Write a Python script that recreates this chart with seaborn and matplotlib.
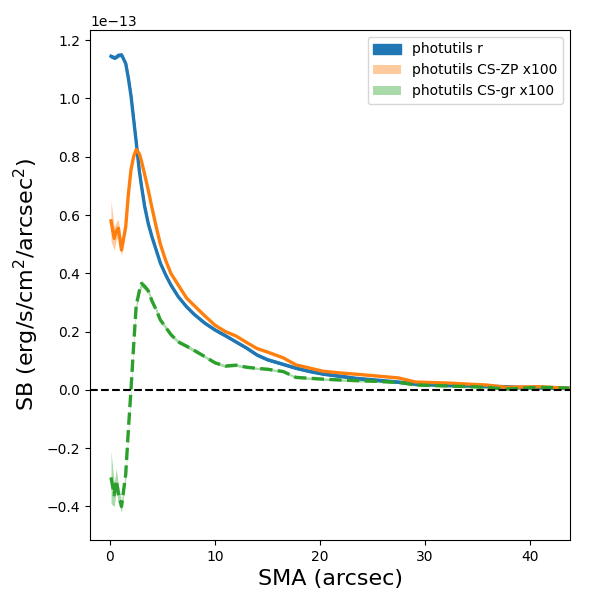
import numpy as np
import pandas as pd
import matplotlib
matplotlib.use('Agg')
import matplotlib.pyplot as plt
import seaborn as sns

# SMA grid (arcsec)
sma = [0.1, 0.4, 0.6, 0.8, 1.1, 1.5, 1.75, 2.0, 2.25, 2.5, 2.8, 3.0, 3.3, 3.65,
       4.0, 4.4, 4.8, 5.3, 5.8, 6.5, 7.3, 8.0, 9.0, 10.0, 11.0, 12.0, 13.0,
       14.0, 15.0, 16.5, 17.7, 19.0, 20.3, 22.0, 23.4, 25.0, 27.5, 29.1, 31.0,
       32.6, 34.5, 35.8, 37.7, 39.0, 40.8, 42.0, 43.7]

# surface brightness, units of 1e-13
sb_r = [1.145, 1.14, 1.142, 1.148, 1.15, 1.12, 1.07, 1.01, 0.93, 0.85, 0.75,
        0.70, 0.63, 0.57, 0.525, 0.48, 0.435, 0.395, 0.36, 0.32, 0.285, 0.26,
        0.23, 0.206, 0.186, 0.165, 0.144, 0.12, 0.104, 0.088, 0.075, 0.064,
        0.055, 0.047, 0.04, 0.035, 0.027, 0.021, 0.018, 0.016, 0.015, 0.013,
        0.011, 0.009, 0.008, 0.007, 0.006]
err_r = [0.004, 0.004, 0.003, 0.003, 0.003, 0.003, 0.003, 0.003, 0.003, 0.003,
         0.003, 0.003, 0.003, 0.003, 0.003, 0.003, 0.003, 0.003, 0.003, 0.003,
         0.003, 0.003, 0.003, 0.003, 0.003, 0.003, 0.003, 0.003, 0.003, 0.003,
         0.003, 0.003, 0.003, 0.003, 0.003, 0.003, 0.003, 0.003, 0.003, 0.003,
         0.003, 0.003, 0.003, 0.003, 0.003, 0.003, 0.003]

sb_zp = [0.58, 0.52, 0.545, 0.555, 0.48, 0.56, 0.67, 0.755, 0.80, 0.825, 0.81,
         0.785, 0.74, 0.685, 0.625, 0.56, 0.50, 0.445, 0.40, 0.36, 0.315, 0.29,
         0.255, 0.222, 0.20, 0.185, 0.163, 0.142, 0.13, 0.11, 0.086, 0.075,
         0.064, 0.058, 0.054, 0.049, 0.041, 0.027, 0.025, 0.023, 0.019, 0.017,
         0.009, 0.010, 0.011, 0.009, 0.005]
err_zp = [0.07, 0.04, 0.03, 0.03, 0.02, 0.012, 0.01, 0.008, 0.008, 0.008, 0.008,
          0.008, 0.007, 0.006, 0.006, 0.005, 0.005, 0.005, 0.004, 0.004, 0.004,
          0.004, 0.004, 0.003, 0.003, 0.003, 0.003, 0.003, 0.003, 0.003, 0.003,
          0.003, 0.003, 0.003, 0.003, 0.003, 0.003, 0.003, 0.003, 0.003, 0.003,
          0.003, 0.003, 0.003, 0.003, 0.003, 0.003]

sb_gr = [-0.30, -0.36, -0.31, -0.355, -0.40, -0.29, -0.14, 0.0, 0.15, 0.29,
         0.34, 0.365, 0.355, 0.34, 0.305, 0.275, 0.24, 0.215, 0.19, 0.165,
         0.15, 0.136, 0.115, 0.093, 0.082, 0.085, 0.078, 0.074, 0.071, 0.063,
         0.043, 0.04, 0.037, 0.034, 0.032, 0.03, 0.026, 0.017, 0.015, 0.013,
         0.011, 0.009, 0.003, 0.005, 0.009, 0.008, 0.006]
err_gr = [0.09, 0.04, 0.04, 0.03, 0.02, 0.015, 0.012, 0.012, 0.012, 0.012,
          0.012, 0.012, 0.01, 0.01, 0.008, 0.008, 0.008, 0.007, 0.007, 0.006,
          0.006, 0.006, 0.005, 0.005, 0.005, 0.005, 0.004, 0.004, 0.004, 0.004,
          0.004, 0.004, 0.004, 0.004, 0.004, 0.004, 0.004, 0.004, 0.004, 0.004,
          0.004, 0.004, 0.004, 0.004, 0.004, 0.004, 0.004]

scale = 1e-13
df = pd.DataFrame({'sma': sma,
                   'r': np.array(sb_r) * scale,
                   'zp': np.array(sb_zp) * scale,
                   'gr': np.array(sb_gr) * scale})

fig, ax = plt.subplots(figsize=(6, 6), dpi=100)
fig.subplots_adjust(left=0.15, right=0.95, top=0.95, bottom=0.1)

# bands (these carry the legend)
ax.fill_between(sma, (np.array(sb_r) - err_r) * scale, (np.array(sb_r) + err_r) * scale,
                color='C0', label='photutils r')
ax.fill_between(sma, (np.array(sb_zp) - err_zp) * scale, (np.array(sb_zp) + err_zp) * scale,
                color='C1', alpha=0.4, lw=0, label='photutils CS-ZP x100')
ax.fill_between(sma, (np.array(sb_gr) - err_gr) * scale, (np.array(sb_gr) + err_gr) * scale,
                color='C2', alpha=0.4, lw=0, label='photutils CS-gr x100')

sns.lineplot(data=df, x='sma', y='r', color='C0', lw=2.4, ax=ax, legend=False)
sns.lineplot(data=df, x='sma', y='zp', color='C1', lw=2.4, ax=ax, legend=False)
sns.lineplot(data=df, x='sma', y='gr', color='C2', lw=2.4, ls='--', ax=ax, legend=False)

ax.axhline(0, color='black', ls='--', lw=1.5)

ax.set_xlim(-1.9, 43.8)
ax.set_ylim(-0.515e-13, 1.235e-13)
ax.set_xlabel('SMA (arcsec)', fontsize=16)
ax.set_ylabel('SB (erg/s/cm$^2$/arcsec$^2$)', fontsize=16)
ax.legend(loc='upper right')

plt.savefig('out.png', dpi=100)
